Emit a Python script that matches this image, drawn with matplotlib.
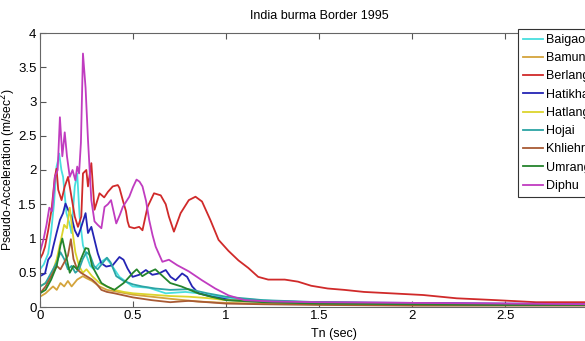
import matplotlib
matplotlib.use("Agg")
import matplotlib.pyplot as plt
from matplotlib import font_manager

names = {f.name for f in font_manager.fontManager.ttflist}
NARROW = 'Liberation Sans Narrow' if 'Liberation Sans Narrow' in names else 'Liberation Sans'
REG = 'Liberation Sans'

# ---- data ----
diphu_x = [0, 0.02, 0.035, 0.05, 0.065, 0.08, 0.095, 0.107, 0.12, 0.133, 0.145, 0.16, 0.175, 0.19, 0.2, 0.21, 0.22, 0.231, 0.245, 0.258, 0.276, 0.293, 0.31, 0.33, 0.347, 0.365, 0.382, 0.41, 0.43, 0.445, 0.48, 0.5, 0.519, 0.535, 0.551, 0.57, 0.587, 0.605, 0.622, 0.658, 0.693, 0.738, 0.8, 0.871, 0.942, 1.013, 1.1, 1.25, 1.5, 2.0, 2.5, 3.0]
diphu_y = [0.8, 1.0, 1.2, 1.45, 1.4, 1.9, 2.0, 2.77, 2.2, 2.55, 2.2, 1.9, 2.0, 1.85, 2.05, 1.95, 2.4, 3.7, 3.2, 2.44, 1.56, 1.25, 1.2, 1.15, 1.46, 1.5, 1.56, 1.22, 1.35, 1.46, 1.61, 1.75, 1.86, 1.83, 1.76, 1.55, 1.27, 1.05, 0.88, 0.66, 0.69, 0.61, 0.52, 0.39, 0.27, 0.17, 0.10, 0.08, 0.07, 0.06, 0.05, 0.04]

berlang_x = [0, 0.015, 0.027, 0.044, 0.062, 0.071, 0.08, 0.089, 0.098, 0.116, 0.133, 0.151, 0.169, 0.187, 0.204, 0.222, 0.231, 0.249, 0.258, 0.276, 0.293, 0.32, 0.345, 0.365, 0.391, 0.418, 0.427, 0.445, 0.462, 0.471, 0.48, 0.507, 0.533, 0.551, 0.578, 0.613, 0.649, 0.676, 0.693, 0.72, 0.756, 0.8, 0.836, 0.871, 0.916, 0.96, 1.013, 1.067, 1.12, 1.173, 1.227, 1.316, 1.387, 1.458, 1.547, 1.636, 1.742, 1.884, 2.06, 2.24, 2.453, 2.667, 3.0]
berlang_y = [0.7, 0.78, 0.88, 1.12, 1.42, 1.66, 1.9, 2.02, 1.71, 1.56, 1.76, 1.9, 1.61, 1.32, 1.17, 1.32, 1.95, 2.0, 1.76, 2.1, 1.42, 1.66, 1.6, 1.68, 1.76, 1.78, 1.74, 1.56, 1.40, 1.25, 1.17, 1.15, 1.17, 1.12, 1.46, 1.66, 1.63, 1.5, 1.32, 1.1, 1.37, 1.56, 1.61, 1.54, 1.27, 0.98, 0.82, 0.68, 0.57, 0.44, 0.40, 0.40, 0.37, 0.31, 0.27, 0.25, 0.22, 0.20, 0.175, 0.127, 0.10, 0.07, 0.07]

hatikhali_x = [0, 0.027, 0.044, 0.06, 0.071, 0.089, 0.107, 0.124, 0.137, 0.151, 0.169, 0.187, 0.204, 0.222, 0.245, 0.258, 0.276, 0.293, 0.311, 0.329, 0.356, 0.391, 0.427, 0.449, 0.471, 0.498, 0.533, 0.569, 0.604, 0.64, 0.676, 0.702, 0.729, 0.764, 0.791, 0.818, 0.853, 0.924, 1.03, 1.2, 1.5, 2.0, 2.5, 3.0]
hatikhali_y = [0.45, 0.49, 0.69, 0.75, 0.88, 1.08, 1.27, 1.37, 1.51, 1.42, 1.32, 1.12, 1.03, 1.17, 1.37, 1.08, 1.17, 0.98, 0.78, 0.64, 0.59, 0.61, 0.73, 0.69, 0.56, 0.44, 0.47, 0.54, 0.47, 0.49, 0.54, 0.44, 0.39, 0.49, 0.44, 0.30, 0.20, 0.15, 0.10, 0.085, 0.07, 0.06, 0.05, 0.04]

baigao_x = [0, 0.02, 0.044, 0.06, 0.075, 0.089, 0.098, 0.103, 0.115, 0.124, 0.142, 0.16, 0.169, 0.18, 0.187, 0.2, 0.213, 0.231, 0.25, 0.27, 0.29, 0.32, 0.34, 0.356, 0.375, 0.4, 0.427, 0.498, 0.586, 0.676, 0.782, 0.853, 0.96, 1.07, 1.3, 1.6, 2.0, 2.5, 3.0]
baigao_y = [0.55, 0.62, 0.78, 1.1, 1.5, 2.05, 2.15, 2.24, 2.0, 1.9, 1.37, 1.2, 1.08, 1.5, 1.76, 1.95, 1.32, 0.9, 0.75, 0.6, 0.55, 0.64, 0.68, 0.71, 0.65, 0.55, 0.44, 0.30, 0.28, 0.20, 0.22, 0.20, 0.15, 0.12, 0.08, 0.06, 0.05, 0.04, 0.03]

hojai_x = [0, 0.03, 0.06, 0.09, 0.11, 0.13, 0.15, 0.17, 0.19, 0.21, 0.23, 0.25, 0.27, 0.29, 0.31, 0.33, 0.36, 0.38, 0.41, 0.45, 0.5, 0.55, 0.62, 0.7, 0.8, 0.9, 1.0, 1.2, 1.5, 2.0, 2.5, 3.0]
hojai_y = [0.3, 0.35, 0.5, 0.65, 0.8, 0.7, 0.55, 0.6, 0.5, 0.55, 0.7, 0.8, 0.75, 0.6, 0.55, 0.62, 0.72, 0.65, 0.45, 0.38, 0.33, 0.3, 0.27, 0.25, 0.26, 0.2, 0.15, 0.1, 0.07, 0.05, 0.04, 0.03]

hatlang_x = [0, 0.03, 0.06, 0.09, 0.11, 0.13, 0.145, 0.16, 0.175, 0.19, 0.21, 0.23, 0.25, 0.28, 0.32, 0.36, 0.4, 0.45, 0.5, 0.6, 0.7, 0.8, 0.9, 1.0, 1.2, 1.5, 2.0, 2.5, 3.0]
hatlang_y = [0.3, 0.35, 0.45, 0.7, 0.95, 1.2, 1.15, 1.45, 1.1, 0.8, 0.6, 0.5, 0.55, 0.45, 0.35, 0.3, 0.25, 0.22, 0.2, 0.18, 0.16, 0.15, 0.13, 0.1, 0.08, 0.06, 0.05, 0.04, 0.03]

khliehria_x = [0, 0.03, 0.06, 0.09, 0.11, 0.13, 0.15, 0.166, 0.18, 0.2, 0.22, 0.25, 0.28, 0.3, 0.33, 0.36, 0.4, 0.45, 0.5, 0.6, 0.7, 0.8, 0.9, 1.0, 1.2, 1.5, 2.0, 2.5, 3.0]
khliehria_y = [0.2, 0.3, 0.45, 0.6, 0.55, 0.65, 0.75, 0.99, 0.7, 0.55, 0.5, 0.45, 0.4, 0.35, 0.25, 0.22, 0.2, 0.17, 0.14, 0.1, 0.07, 0.09, 0.07, 0.05, 0.04, 0.03, 0.02, 0.02, 0.02]

umrang_x = [0, 0.03, 0.06, 0.09, 0.11, 0.12, 0.14, 0.16, 0.18, 0.2, 0.22, 0.245, 0.26, 0.28, 0.3, 0.33, 0.36, 0.4, 0.45, 0.5, 0.52, 0.55, 0.58, 0.62, 0.66, 0.7, 0.76, 0.85, 0.92, 1.0, 1.2, 1.5, 2.0, 2.5, 3.0]
umrang_y = [0.2, 0.25, 0.4, 0.6, 0.9, 1.0, 0.75, 0.5, 0.6, 0.55, 0.7, 0.86, 0.85, 0.6, 0.5, 0.35, 0.3, 0.25, 0.35, 0.5, 0.55, 0.45, 0.5, 0.55, 0.45, 0.35, 0.3, 0.2, 0.15, 0.1, 0.07, 0.05, 0.04, 0.03, 0.03]

bamung_x = [0, 0.03, 0.05, 0.07, 0.09, 0.11, 0.13, 0.15, 0.17, 0.2, 0.23, 0.25, 0.28, 0.32, 0.36, 0.42, 0.5, 0.6, 0.7, 0.85, 1.0, 1.2, 1.5, 2.0, 2.5, 3.0]
bamung_y = [0.15, 0.2, 0.25, 0.3, 0.25, 0.35, 0.3, 0.38, 0.3, 0.4, 0.45, 0.42, 0.38, 0.3, 0.25, 0.22, 0.18, 0.15, 0.12, 0.08, 0.06, 0.05, 0.04, 0.03, 0.03, 0.03]

labels = ['Baigao', 'Bamungaon', 'Berlangthem', 'Hatikhali', 'Hatlang', 'Hojai', 'Khliehriat', 'Umrangso', 'Diphu']
colors = ['#48dede', '#d4a43c', '#d02a2a', '#2424b4', '#dcd42c', '#2ca4a4', '#a85a34', '#24842c', '#c03cc0']
xs = [baigao_x, bamung_x, berlang_x, hatikhali_x, hatlang_x, hojai_x, khliehria_x, umrang_x, diphu_x]
ys = [baigao_y, bamung_y, berlang_y, hatikhali_y, hatlang_y, hojai_y, khliehria_y, umrang_y, diphu_y]
xtick_vals = [0, 0.5, 1, 1.5, 2, 2.5]
xtick_labels = ['0', '0.5', '1', '1.5', '2', '2.5']
ytick_vals = [0, 0.5, 1, 1.5, 2, 2.5, 3, 3.5, 4]
ytick_labels = ['0', '0.5', '1', '1.5', '2', '2.5', '3', '3.5', '4']

W, H = 585, 341
fig = plt.figure(figsize=(W/100, H/100), dpi=100)
left, right, top, bottom = 40, 598, 33, 307
ax = fig.add_axes([left/W, 1-bottom/H, (right-left)/W, (bottom-top)/H])

for x, y, c, l in zip(xs, ys, colors, labels):
    ax.plot(x, y, color=c, lw=1.3, label=l)

ax.set_xlim(0, 3)
ax.set_ylim(0, 4)
ax.set_xticks(xtick_vals)
ax.set_xticklabels(xtick_labels)
ax.set_yticks(ytick_vals)
ax.set_yticklabels(ytick_labels)
ax.tick_params(direction='in', top=True, right=True, length=4, width=0.8,
               color='#555555', labelsize=9.5, pad=2.5)
for lab in ax.get_xticklabels() + ax.get_yticklabels():
    lab.set_family(NARROW)
for s in ax.spines.values():
    s.set_color('#666666')
    s.set_linewidth(0.8)

ax.set_title('India burma Border 1995', family=NARROW, fontsize=9, pad=10)
ax.set_xlabel('Tn (sec)', family=NARROW, fontsize=9)
ax.xaxis.set_label_coords((334-left)/(right-left), -(328-bottom)/(bottom-top))
ax.set_ylabel('Pseudo-Acceleration (m/sec$^2$)', family=REG, fontsize=8.7)
ax.yaxis.set_label_coords(-(left-18.5)/(right-left), 0.5)

leg = fig.legend(loc='upper left', bbox_to_anchor=(518/W, 1-29/H), borderaxespad=0,
                 frameon=True, fancybox=False, framealpha=1, edgecolor='#333333',
                 prop={'family': NARROW, 'size': 9}, handlelength=1.6, handletextpad=0.25,
                 labelspacing=0.5, borderpad=0.4)
leg.get_frame().set_linewidth(0.8)

fig.savefig('out.png', dpi=100, facecolor='white')
